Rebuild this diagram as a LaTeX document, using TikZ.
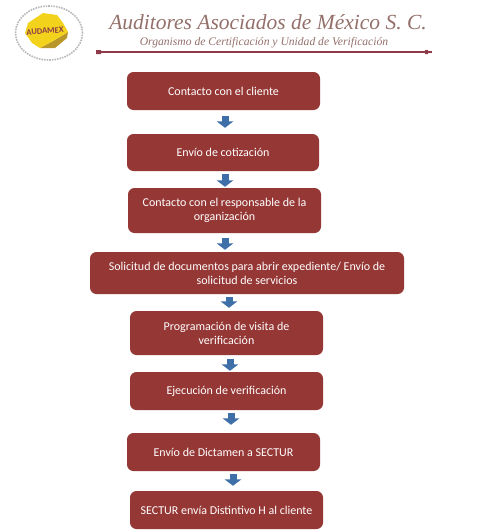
\documentclass[tikz,border=0pt]{standalone}
\usepackage{fontspec}
\setmainfont{Carlito}
\newfontfamily\titlefont{Liberation Serif}
\usetikzlibrary{arrows.meta,shapes.geometric}
\definecolor{boxred}{HTML}{953735}
\definecolor{arrowblue}{HTML}{3F6FA8}
\definecolor{titlebrown}{HTML}{94706B}
\definecolor{rulered}{HTML}{8E3A48}
\definecolor{logoyellow}{HTML}{F2D21B}
\definecolor{logoside}{HTML}{B8962A}
\tikzset{
  flowbox/.style={draw=none,fill=boxred,rounded corners=6.5pt,text=white,align=center,font=\fontsize{12}{14}\selectfont,inner sep=0pt},
  flowarrow/.style={draw=arrowblue,line width=7pt,-{Triangle[width=16.5pt,length=6.5pt]}},
  titletext/.style={text=titlebrown,inner sep=0pt}
}
\begin{document}
\begin{tikzpicture}[x=1pt,y=-1pt]
\useasboundingbox (0,0) rectangle (495,530);
\fill[white] (0,0) rectangle (495,530);
% logo
\node[draw=gray!55,densely dotted,line width=1.6pt,ellipse,minimum width=67pt,minimum height=54pt,inner sep=0pt] (ring) at (49,33) {};
\fill[logoside] (68,32) -- (67,38) -- (55,48) -- (40,48) -- (53,41) -- cycle;
\fill[logoyellow] (25,33) -- (28,23) -- (43,13) -- (57,15) -- (63,23) -- (68,32) -- (53,41) -- (40,48) -- (32,43) -- cycle;
\node[text=rulered,font=\fontsize{8.5}{9}\bfseries\selectfont,inner sep=0pt,rotate=4] (logotext) at (45,31) {AUDAMEX};
% header
\node[titletext,font=\titlefont\itshape\fontsize{21.5}{24}\selectfont] (title) at (268,22) {Auditores Asociados de México S. C.};
\node[titletext,font=\titlefont\itshape\fontsize{11.6}{14}\selectfont] (subtitle) at (264,43) {Organismo de Certificación y Unidad de Verificación};
\coordinate (ruleL) at (96,52);
\coordinate (ruleR) at (432,52);
\draw[rulered,line width=1.2pt] (ruleL) -- (ruleR);
\fill[rulered] (96,50) rectangle (101,54) (425,50) rectangle (428,54);
% boxes
\node[flowbox,minimum width=193pt,minimum height=38pt] (b1) at (223.5,91) {Contacto con el cliente};
\node[flowbox,minimum width=192pt,minimum height=37pt] (b2) at (223,152.5) {Envío de cotización};
\node[flowbox,minimum width=193pt,minimum height=45pt] (b3) at (224.5,210.5) {Contacto con el responsable de la\\organización};
\node[flowbox,minimum width=314pt,minimum height=42pt] (b4) at (247,273) {Solicitud de documentos para abrir expediente/ Envío de\\solicitud de servicios};
\node[flowbox,minimum width=193pt,minimum height=44pt] (b5) at (226.5,333) {Programación de visita de\\verificación};
\node[flowbox,minimum width=193pt,minimum height=38pt] (b6) at (226.5,391) {Ejecución de verificación};
\node[flowbox,minimum width=193pt,minimum height=38pt] (b7) at (223.5,452) {Envío de Dictamen a SECTUR};
\node[flowbox,minimum width=193pt,minimum height=38pt] (b8) at (226.5,510) {SECTUR envía Distintivo H al cliente};
% arrows
\coordinate (xa) at (225,0);
\coordinate (xb) at (229,0);
\coordinate (xc) at (230,0);
\coordinate (xd) at (231,0);
\coordinate (xe) at (233,0);
\draw[flowarrow,shorten <=6pt,shorten >=6pt] (b1.south -| xa) -- (b2.north -| xa);
\draw[flowarrow,shorten <=3pt,shorten >=1pt] (b2.south -| xa) -- (b3.north -| xa);
\draw[flowarrow,shorten <=5pt,shorten >=2pt] (b3.south -| xa) -- (b4.north -| xa);
\draw[flowarrow,shorten <=3pt,shorten >=3pt] (b4.south -| xb) -- (b5.north -| xb);
\draw[flowarrow,shorten <=4pt,shorten >=1pt] (b5.south -| xc) -- (b6.north -| xc);
\draw[flowarrow,shorten <=3pt,shorten >=8pt] (b6.south -| xd) -- (b7.north -| xd);
\draw[flowarrow,shorten <=3pt,shorten >=5pt] (b7.south -| xe) -- (b8.north -| xe);
\end{tikzpicture}
\end{document}
